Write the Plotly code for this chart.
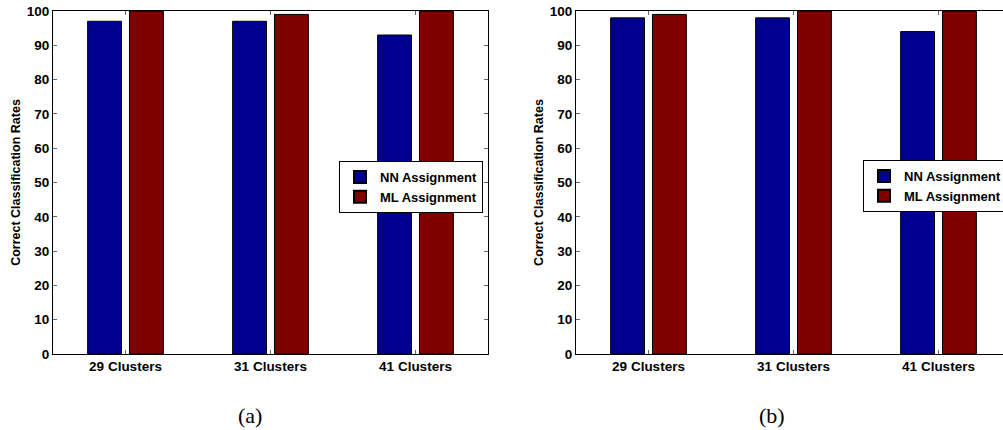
import plotly.graph_objects as go

categories = ["29 Clusters", "31 Clusters", "41 Clusters"]
series_names = ["NN Assignment", "ML Assignment"]
a_nn = [97, 97, 93]
a_ml = [100, 99, 100]
b_nn = [98, 98, 94]
b_ml = [99, 100, 100]
y_ticks = [0, 10, 20, 30, 40, 50, 60, 70, 80, 90, 100]
captions = ["(a)", "(b)"]
y_title = "Correct Classification Rates"

BLUE = "#00008F"
RED = "#800000"
FONT = "Arial, 'Liberation Sans', Helvetica, sans-serif"
SERIF = "'Times New Roman', 'Liberation Serif', Times, serif"
W, H = 1003, 430

pos = [1, 2, 3]

fig = go.Figure()
for vals, name, col in [(a_nn, series_names[0], BLUE), (a_ml, series_names[1], RED)]:
    fig.add_trace(go.Bar(x=pos, y=vals, name=name, marker=dict(color=col, line=dict(color="black", width=1)),
                         xaxis="x", yaxis="y", legend="legend", hoverinfo="skip"))
for vals, name, col in [(b_nn, series_names[0], BLUE), (b_ml, series_names[1], RED)]:
    fig.add_trace(go.Bar(x=pos, y=vals, name=name, marker=dict(color=col, line=dict(color="black", width=1)),
                         xaxis="x2", yaxis="y2", legend="legend2", hoverinfo="skip"))

tickfont = dict(family=FONT, size=13.5, color="black", weight="bold")

def xax(domain, rng, anchor):
    return dict(domain=domain, range=rng, anchor=anchor, tickvals=pos, ticktext=categories, ticks="inside", ticklen=4,
                tickcolor="#666", showline=True, linecolor="black", linewidth=1, mirror="ticks",
                showgrid=False, zeroline=False, tickfont=tickfont, fixedrange=True)

def yax(anchor, mirror):
    return dict(anchor=anchor, range=[0, 100], tickvals=y_ticks, ticks="inside", ticklen=4, tickcolor="#666",
                showline=True, linecolor="black", linewidth=1, mirror=mirror, showgrid=False, zeroline=False,
                tickfont=tickfont,
                title=dict(text=y_title, font=dict(family=FONT, size=12.5, color="black", weight="bold"), standoff=3),
                fixedrange=True)

left_a, right_a = 53, 488
left_b = 576
unit = (right_a - left_a) / 3.0
rng_b_end = 0.5 + (W - left_b) / unit

legend_style = dict(bgcolor="white", bordercolor="black", borderwidth=1,
                    font=dict(family=FONT, size=13, color="black", weight="bold"),
                    tracegroupgap=0, itemsizing="constant", yanchor="top")

fig.update_layout(
    width=W, height=H,
    margin=dict(l=0, r=0, t=11, b=76, autoexpand=False),
    paper_bgcolor="white", plot_bgcolor="white",
    barmode="group", bargap=0.423, bargroupgap=0.19,
    xaxis=xax([left_a / W, right_a / W], [0.5, 3.5], "y"),
    yaxis=yax("x", "ticks"),
    xaxis2=xax([left_b / W, 1.0], [0.5, rng_b_end], "y2"),
    yaxis2=yax("x2", False),
    legend=dict(x=483 / W, xanchor="right", y=(354 - 161) / 343, **legend_style),
    legend2=dict(x=863 / W, xanchor="left", y=(354 - 160) / 343, **legend_style),
    showlegend=True,
)

for cap, cx in zip(captions, [250, 772]):
    fig.add_annotation(text=cap, x=cx / W, y=(354 - 416) / 343, xref="paper", yref="paper",
                       showarrow=False, xanchor="center", yanchor="middle",
                       font=dict(family=SERIF, size=22, color="black"))

fig.write_html("out.html", config={"displayModeBar": False, "staticPlot": True},
               post_script="document.body.style.margin='0';document.body.style.overflow='hidden';")
